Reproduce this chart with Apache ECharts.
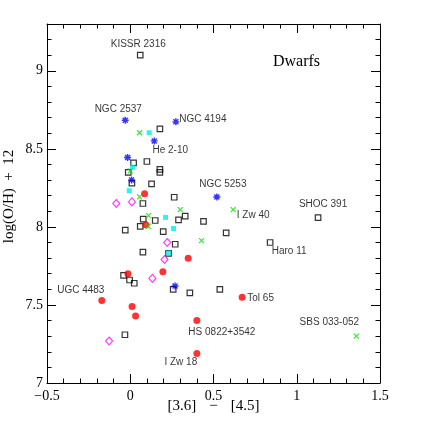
<!DOCTYPE html>
<html>
<head>
<meta charset="utf-8">
<script src="https://cdn.jsdelivr.net/npm/echarts@6/dist/echarts.min.js"></script>
<style>
html,body{margin:0;padding:0;background:#fff;}
#chart{width:429px;height:429px;}
</style>
</head>
<body>
<div id="chart"></div>
<script>
// ---- data: [x = [3.6]-[4.5], y = log(O/H)+12] ----
const blackSquares = [
  [0.06, 9.10], [0.178, 8.628], [0.02, 8.41], [0.10, 8.419], [0.178, 8.368], [0.178, 8.35],
  [-0.012, 8.349], [0.01, 8.28], [0.128, 8.276], [0.264, 8.19], [0.076, 8.15], [0.078, 8.05],
  [0.33, 8.069], [0.29, 8.045], [0.15, 8.041], [0.44, 8.035], [0.06, 8.003], [-0.03, 7.98],
  [0.198, 7.97], [0.576, 7.962], [0.27, 7.889], [0.076, 7.838], [0.23, 7.831], [-0.04, 7.69],
  [-0.004, 7.66], [0.024, 7.639], [0.258, 7.60], [0.358, 7.578], [0.538, 7.60], [-0.032, 7.309],
  [1.128, 8.06], [0.84, 7.90]
];
const redCircles = [
  [0.086, 8.212], [0.093, 8.014], [0.348, 7.80], [0.196, 7.713], [-0.014, 7.70], [0.672, 7.549],
  [-0.171, 7.528], [0.011, 7.49], [0.032, 7.429], [0.40, 7.40], [0.40, 7.189]
];
const blueAsterisks = [
  [-0.03, 8.683], [0.274, 8.673], [0.144, 8.551], [-0.016, 8.445], [0.008, 8.30], [0.52, 8.192],
  [0.269, 7.621]
];
const greenCrosses = [
  [0.056, 8.603], [0.0, 8.359], [0.056, 8.192], [0.30, 8.111], [0.618, 8.111], [0.11, 8.072],
  [0.108, 8.004], [0.428, 7.912], [1.358, 7.30]
];
const cyanSquares = [
  [0.114, 8.603], [0.014, 8.383], [-0.006, 8.232], [0.212, 8.061], [0.26, 7.99], [0.23, 7.833]
];
const magentaDiamonds = [
  [-0.084, 8.15], [0.01, 8.16], [0.222, 7.90], [0.206, 7.791], [0.133, 7.67], [-0.127, 7.269]
];
// labelled objects: [group, index in group, name]
const pointLabels = [
  ['squares', 0, 'KISSR 2316'], ['squares', 30, 'SHOC 391'], ['squares', 31, 'Haro 11'],
  ['red', 5, 'Tol 65'], ['red', 6, 'UGC 4483'], ['red', 9, 'HS 0822+3542'], ['red', 10, 'I Zw 18'],
  ['blue', 0, 'NGC 2537'], ['blue', 1, 'NGC 4194'], ['blue', 2, 'He 2-10'], ['blue', 5, 'NGC 5253'],
  ['green', 4, 'I Zw 40'], ['green', 8, 'SBS 033-052']
];
const xTickValues = [-0.5, 0, 0.5, 1, 1.5];
const yTickValues = [7, 7.5, 8, 8.5, 9];
const panelTitle = 'Dwarfs';
const xTitle = ['[3.6]', '−', '[4.5]'];
const yTitle = 'log(O/H)  +  12';

// ---- style (label offsets relative to the point, px) ----
const labelOffsets = {
  'KISSR 2316': [-2, -11], 'SHOC 391': [5, -13], 'Haro 11': [19, 9],
  'Tol 65': [18.5, 1], 'UGC 4483': [-21, -10.5], 'HS 0822+3542': [25, 11.5], 'I Zw 18': [-16, 8.5],
  'NGC 2537': [-7, -11], 'NGC 4194': [27, -2.4], 'He 2-10': [16, 9.5], 'NGC 5253': [6, -12.5],
  'I Zw 40': [20, 6], 'SBS 033-052': [-27, -14]
};

function withLabels(group, arr) {
  return arr.map(function (p, i) {
    const lab = pointLabels.find(function (l) { return l[0] === group && l[1] === i; });
    if (!lab) return p;
    return {
      value: p,
      label: {
        show: true, formatter: lab[2], position: 'inside', offset: labelOffsets[lab[2]],
        fontFamily: 'Liberation Sans', fontSize: 10, color: '#000'
      }
    };
  });
}

const serif = 'Liberation Serif';
const tickFont = { fontFamily: serif, fontSize: 14, color: '#000' };
const lineBlack = { color: '#000', width: 1 };

function xAxisCfg(pos, labels) {
  return {
    type: 'value', position: pos, min: -0.5, max: 1.5, interval: 0.5,
    axisLine: { show: true, onZero: false, lineStyle: lineBlack },
    axisTick: { show: true, inside: true, length: 9, lineStyle: lineBlack },
    minorTick: { show: true, splitNumber: 5, length: 4.5, lineStyle: lineBlack },
    splitLine: { show: false }, minorSplitLine: { show: false },
    axisLabel: labels ? Object.assign({
      show: true, margin: 6,
      formatter: function (v) {
        if (!xTickValues.some(function (t) { return Math.abs(t - v) < 1e-6; })) return '';
        return v < 0 ? '−' + Math.abs(v) : String(v);
      }
    }, tickFont) : { show: false }
  };
}
function yAxisCfg(pos, major, labels) {
  return {
    type: 'value', position: pos, min: 7, max: 9.3, interval: major ? 0.5 : 0.1,
    axisLine: { show: major, onZero: false, lineStyle: lineBlack },
    axisTick: { show: true, inside: true, length: major ? 9 : 4.5, lineStyle: lineBlack },
    splitLine: { show: false },
    axisLabel: labels ? Object.assign({
      show: true, margin: 4,
      formatter: function (v) {
        if (!yTickValues.some(function (t) { return Math.abs(t - v) < 1e-6; })) return '';
        return String(v);
      }
    }, tickFont) : { show: false }
  };
}

const xA = xAxisCfg('bottom', true);
xA.name = '{a|' + xTitle[0] + '}{m|' + xTitle[1] + '}{a|' + xTitle[2] + '}';
xA.nameLocation = 'middle';
xA.nameGap = 16;
xA.nameMoveOverlap = false;
xA.nameTextStyle = {
  rich: {
    a: { fontFamily: serif, fontSize: 15, color: '#000' },
    m: { fontFamily: serif, fontSize: 15, color: '#000', padding: [0, 13, 0, 13] }
  }
};
const yA = yAxisCfg('left', true, true);
yA.name = yTitle;
yA.nameLocation = 'middle';
yA.nameGap = 30;
yA.nameMoveOverlap = false;
yA.nameTextStyle = { fontFamily: serif, fontSize: 15, color: '#000', padding: [0, 0, 0, 14] };

const asteriskPath = 'path://M0,-3.5L0,3.5M-3.5,0L3.5,0M-2.5,-2.5L2.5,2.5M-2.5,2.5L2.5,-2.5';
const crossPath = 'path://M-2.5,-2.5L2.5,2.5M-2.5,2.5L2.5,-2.5';

const option = {
  animation: false,
  backgroundColor: '#fff',
  grid: { left: 47, right: 49, top: 24, bottom: 46, containLabel: false, outerBoundsMode: 'none' },
  xAxis: [xA, xAxisCfg('top', false)],
  yAxis: [yA, yAxisCfg('left', false, false), yAxisCfg('right', true, false), yAxisCfg('right', false, false)],
  graphic: [{
    type: 'text', left: 273, top: 54,
    style: { text: panelTitle, fontFamily: serif, fontSize: 16, fill: '#000' }
  }],
  series: [
    { type: 'scatter', name: 'squares', data: withLabels('squares', blackSquares), symbol: 'rect', symbolSize: 5.5,
      itemStyle: { color: 'rgba(0,0,0,0)', borderColor: '#000', borderWidth: 1.2 }, z: 2 },
    { type: 'scatter', name: 'red', data: withLabels('red', redCircles), symbol: 'circle', symbolSize: 7,
      itemStyle: { color: '#ff0000' }, z: 3 },
    { type: 'scatter', name: 'magenta', data: magentaDiamonds, symbol: 'diamond', symbolSize: [7, 8],
      itemStyle: { color: 'rgba(0,0,0,0)', borderColor: '#ff00ff', borderWidth: 1.1 }, z: 4 },
    { type: 'scatter', name: 'cyan', data: cyanSquares, symbol: 'rect', symbolSize: 5,
      itemStyle: { color: '#00eeee' }, z: 5 },
    { type: 'scatter', name: 'green', data: withLabels('green', greenCrosses), symbol: crossPath, symbolSize: 5,
      itemStyle: { color: 'rgba(0,0,0,0)', borderColor: '#00e000', borderWidth: 1.2 }, z: 6 },
    { type: 'scatter', name: 'blue', data: withLabels('blue', blueAsterisks), symbol: asteriskPath, symbolSize: 7,
      itemStyle: { color: 'rgba(0,0,0,0)', borderColor: '#0000ff', borderWidth: 1.4 }, z: 7 }
  ]
};

const chart = echarts.init(document.getElementById('chart'), null, { renderer: 'canvas' });
chart.setOption(option);
</script>
</body>
</html>
